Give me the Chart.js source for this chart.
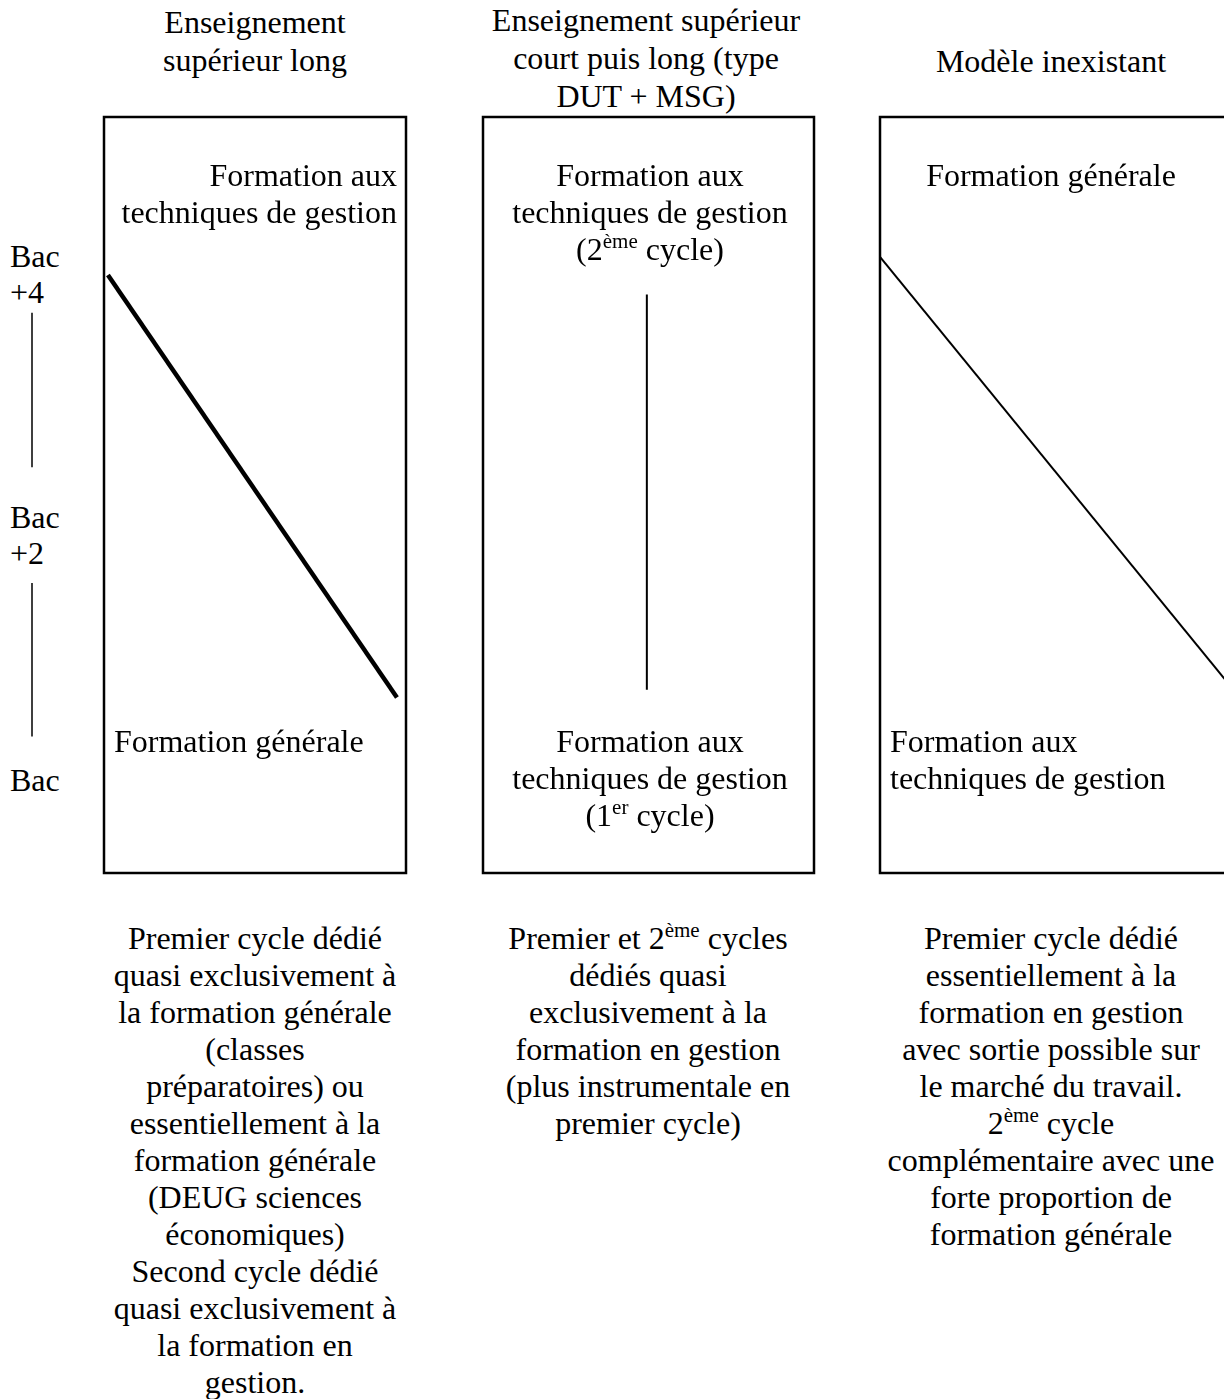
<!DOCTYPE html>
<html lang="fr">
<head>
  <meta charset="UTF-8" />
  <title>Modèles de formation en gestion</title>
  <script src="https://cdn.jsdelivr.net/npm/chart.js"></script>
  <style>
    * { margin: 0; padding: 0; box-sizing: border-box; }
    html, body { width: 1224px; height: 1399px; overflow: hidden; background: #fff; }
    body {
      position: relative;
      font-family: 'Liberation Serif', 'Times New Roman', serif;
      font-size: 32px;
      color: #000;
    }
    .txt { position: absolute; line-height: 37px; white-space: nowrap; }
    .c { text-align: center; transform: translateX(-50%); }
    .r { text-align: right; }
    .ttl { line-height: 38px; }
    .lab { line-height: 36px; }
    sup { font-size: 21px; line-height: 0; position: relative; top: -12px; vertical-align: baseline; }
    .frame { position: absolute; }
  </style>
</head>
<body>
  <!-- titres -->
  <div class="txt ttl c" style="left:255px; top:3px;">Enseignement<br>supérieur long</div>
  <div class="txt ttl c" style="left:646px; top:1px;">Enseignement supérieur<br>court puis long (type<br>DUT + MSG)</div>
  <div class="txt ttl c" style="left:1051px; top:42px;">Modèle inexistant</div>

  <!-- niveaux -->
  <div class="txt lab" style="left:10px; top:238px;">Bac<br>+4</div>
  <div class="txt lab" style="left:10px; top:499px;">Bac<br>+2</div>
  <div class="txt lab" style="left:10px; top:762px;">Bac</div>

  <!-- boites -->
  <div class="frame" id="f0"><canvas id="axisChart"></canvas></div>
  <div class="frame" id="f1"><canvas id="longChart"></canvas></div>
  <div class="frame" id="f2"><canvas id="courtChart"></canvas></div>
  <div class="frame" id="f3"><canvas id="inexChart"></canvas></div>

  <!-- textes dans les boites -->
  <div class="txt r" style="right:827px; top:157px;">Formation aux<br>techniques de gestion</div>
  <div class="txt" style="left:114px; top:723px;">Formation générale</div>

  <div class="txt c" style="left:650px; top:157px;">Formation aux<br>techniques de gestion<br>(2<sup>ème</sup> cycle)</div>
  <div class="txt c" style="left:650px; top:723px;">Formation aux<br>techniques de gestion<br>(1<sup>er</sup> cycle)</div>

  <div class="txt c" style="left:1051px; top:157px;">Formation générale</div>
  <div class="txt" style="left:890px; top:723px;">Formation aux<br>techniques de gestion</div>

  <!-- commentaires -->
  <div class="txt c" style="left:255px; top:920px;">Premier cycle dédié<br>quasi exclusivement à<br>la formation générale<br>(classes<br>préparatoires) ou<br>essentiellement à la<br>formation générale<br>(DEUG sciences<br>économiques)<br>Second cycle dédié<br>quasi exclusivement à<br>la formation en<br>gestion.</div>
  <div class="txt c" style="left:648px; top:920px;">Premier et 2<sup>ème</sup> cycles<br>dédiés quasi<br>exclusivement à la<br>formation en gestion<br>(plus instrumentale en<br>premier cycle)</div>
  <div class="txt c" style="left:1051px; top:920px;">Premier cycle dédié<br>essentiellement à la<br>formation en gestion<br>avec sortie possible sur<br>le marché du travail.<br>2<sup>ème</sup> cycle<br>complémentaire avec une<br>forte proportion de<br>formation générale</div>

  <script>
    // niveaux d'etudes : Bac = 0, Bac+2 = 2, Bac+4 = 4 (axe vertical commun)
    const levelMin = -0.7;
    const levelMax = 5.115;

    // x = part de la largeur de la boite, y = niveau
    const longX = [0.013, 0.970];
    const longY = [3.90, 0.65];
    const courtX = [0.495, 0.495];
    const courtY = [3.75, 0.71];
    const inexX = [0, 1];
    const inexY = [4.04, 0.76];
    const axisX = [0.5, 0.5];
    const axisUpperY = [3.61, 2.42];
    const axisLowerY = [1.53, 0.35];

    const pad = 4;

    // cadre de la boite = zone du graphique
    const boxFrame = {
      id: 'boxFrame',
      afterDraw(chart, args, opts) {
        if (!opts.show) return;
        const a = chart.chartArea;
        const ctx = chart.ctx;
        ctx.save();
        ctx.strokeStyle = '#000';
        ctx.lineWidth = 2.5;
        ctx.strokeRect(a.left, a.top, a.right - a.left, a.bottom - a.top);
        ctx.restore();
      }
    };

    function toPoints(xs, ys) {
      return xs.map((x, i) => ({ x: x, y: ys[i] }));
    }

    function seg(xs, ys, width) {
      return {
        data: toPoints(xs, ys),
        showLine: true,
        borderColor: '#000',
        borderWidth: width,
        pointRadius: 0,
        fill: false,
        clip: false
      };
    }

    function place(id, left, top, width, height) {
      const el = document.getElementById(id);
      el.style.left = (left - pad) + 'px';
      el.style.top = (top - pad) + 'px';
      el.style.width = (width + 2 * pad) + 'px';
      el.style.height = (height + 2 * pad) + 'px';
    }

    function makeChart(canvasId, datasets, framed) {
      return new Chart(document.getElementById(canvasId), {
        type: 'scatter',
        data: { datasets: datasets },
        options: {
          responsive: true,
          maintainAspectRatio: false,
          animation: false,
          events: [],
          layout: { padding: pad },
          scales: {
            x: { type: 'linear', min: 0, max: 1, display: false },
            y: { type: 'linear', min: levelMin, max: levelMax, display: false }
          },
          plugins: {
            legend: { display: false },
            tooltip: { enabled: false },
            boxFrame: { show: framed }
          }
        },
        plugins: [boxFrame]
      });
    }

    place('f0', 28, 117, 8, 756);
    place('f1', 104, 117, 302, 756);
    place('f2', 483, 117, 331, 756);
    place('f3', 880, 117, 348, 756);

    const axisChart = makeChart('axisChart', [
      seg(axisX, axisUpperY, 1.5),
      seg(axisX, axisLowerY, 1.5)
    ], false);
    const longChart = makeChart('longChart', [seg(longX, longY, 4.5)], true);
    const courtChart = makeChart('courtChart', [seg(courtX, courtY, 2)], true);
    const inexChart = makeChart('inexChart', [seg(inexX, inexY, 2)], true);
  </script>
</body>
</html>
